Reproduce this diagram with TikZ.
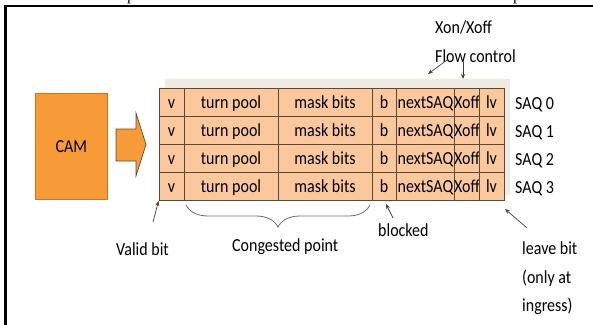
\documentclass[tikz,border=0pt]{standalone}
\usepackage{fontspec}
\setmainfont{Carlito}
\newfontfamily\serifpage{Liberation Serif}
\usetikzlibrary{arrows.meta,decorations.pathreplacing}

\definecolor{cellfill}{HTML}{FBC89E}
\definecolor{cellline}{HTML}{5A4838}
\definecolor{camfill}{HTML}{F79A38}
\definecolor{camline}{HTML}{C8762A}
\definecolor{shadowbg}{HTML}{EEECE2}
\definecolor{notegray}{HTML}{404040}

% slightly tall lettering
\newcommand{\tall}[1]{\scalebox{1}[1.15]{#1}}

\tikzset{
  txt/.style={font=\fontsize{16}{19}\selectfont, inner sep=0pt, text=black},
  cell/.style={txt, draw=cellline, fill=cellfill, line width=0.8pt,
    minimum height=28pt, text height=14pt, text depth=2pt, outer sep=0pt},
  label/.style={txt, anchor=base west},
  pointer/.style={draw=notegray, line width=0.7pt,
    -{Stealth[length=5pt,width=4pt]}},
}

\begin{document}
\begin{tikzpicture}[x=1pt,y=-1pt]
\useasboundingbox (0,0) rectangle (593,324);

% page frame
\draw[line width=2.4pt] (593,6) -- (5.5,6) -- (5.5,330);

% descenders of the line above the frame
\node[font=\serifpage\fontsize{16}{19}\selectfont, anchor=base west, inner sep=0pt] (pA) at (127,0.5) {p};
\node[font=\serifpage\fontsize{16}{19}\selectfont, anchor=base west, inner sep=0pt] (pB) at (513,0.5) {p};

% CAM block
\node[txt, draw=camline, fill=camfill, line width=0.6pt,
  minimum width=72pt, minimum height=106pt, anchor=north west,
  text height=14pt, text depth=2pt] (cam) at (35,93) {\tall{CAM}};

% feed arrow
\draw[draw=cellline, fill=camfill, line width=0.7pt, line join=miter]
  (116,129) -- (136,129) -- (136,113) -- (146,144.5) -- (136,176)
  -- (136,161) -- (116,161) -- cycle;

% background of the queue table
\fill[shadowbg] (165,79) rectangle (510,195);

% queue table: one row per SAQ
\foreach \r in {0,...,3} {
  \foreach \xl/\xr/\t/\n in {159/184/v/v, 184/278/turn pool/tp,
      278/372/mask bits/mb, 372/396/b/b, 396/455/nextSAQ/ns,
      455/479/Xoff/xo, 479/504/lv/lv} {
    \node[cell, minimum width={(\xr-\xl)*1pt}] (\n\r)
      at ({(\xl+\xr)/2}, {102+28*\r}) {\tall{\t}};
  }
  \node[label] (saq\r) at (515, {109+28*\r}) {\tall{SAQ \r}};
}

% flow control note
\node[label] (xon) at (435,33) {\tall{Xon/Xoff}};
\node[label] (flow) at (435,62) {\tall{Flow control}};
\coordinate (fA) at (447,60);
\coordinate (fAt) at (428,74);
\coordinate (fB) at (463,62);
\coordinate (fBt) at (463,79);
\draw[pointer] (fA) -- (fAt);
\draw[pointer] (fB) -- (fBt);

% valid bit note
\node[label] (valid) at (116,255) {\tall{Valid bit}};
\coordinate (vS) at (153,222);
\coordinate (vT) at (158.5,201);
\draw[pointer] (vS) -- (vT);

% congested point brace
\coordinate (brL) at (186,205);
\coordinate (brR) at (370,205);
\draw[draw=gray!85!black, line width=0.8pt,
  decorate, decoration={brace, mirror, amplitude=22pt, aspect=0.5}]
  (brL) -- (brR);
\node[label] (cong) at (232,251) {\tall{Congested point}};

% blocked note
\node[label] (blocked) at (378,236) {\tall{blocked}};
\coordinate (bS) at (393,218);
\coordinate (bT) at (386,204);
\draw[pointer] (bS) -- (bT);

% leave bit note
\node[label] (leave) at (522,254) {\tall{leave bit}};
\node[label] (only) at (522,283) {\tall{(only at}};
\node[label] (ingr) at (522,311) {\tall{ingress)}};
\coordinate (lS) at (527,228);
\coordinate (lT) at (505,209);
\draw[pointer] (lS) -- (lT);
\end{tikzpicture}
\end{document}
